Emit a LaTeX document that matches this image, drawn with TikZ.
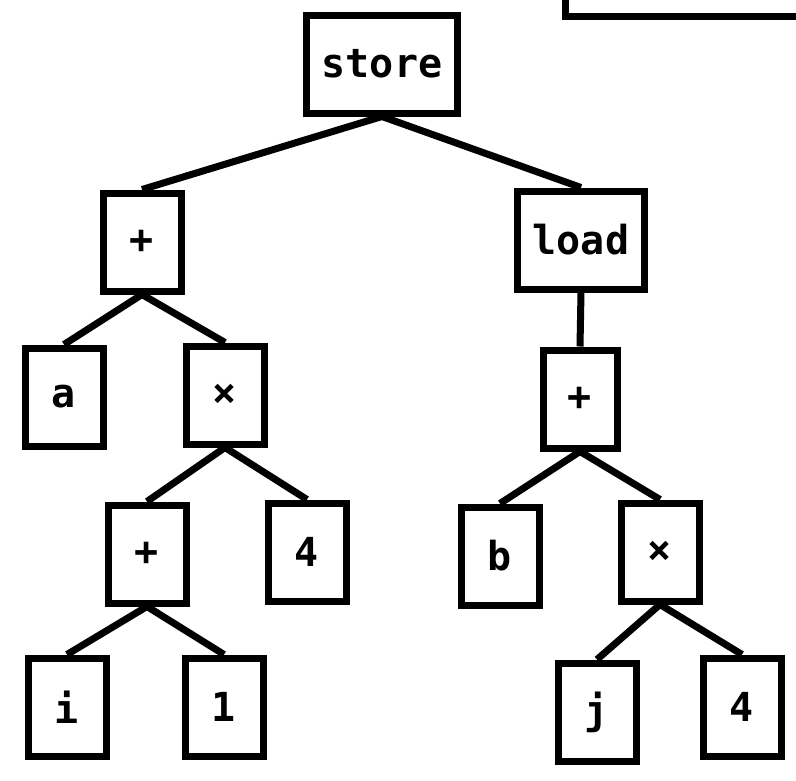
\documentclass[tikz,border=0pt]{standalone}
\usepackage{fontspec}
\setmonofont{DejaVu Sans Mono}
\begin{document}
\begin{tikzpicture}[x=1pt,y=-1pt,
  bx/.style={draw,line width=7pt,minimum width=78pt,minimum height=98pt,inner sep=0pt,font=\ttfamily\bfseries\fontsize{40}{40}\selectfont},
  wd/.style={bx,minimum width=0pt,inner xsep=15pt},
  ed/.style={line width=7pt}]
\useasboundingbox (0,0) rectangle (796,780);
\draw[line width=7pt] (565,0) -- (565,16) -- (800,16);
\node[wd] (store) at (382,64) {store};
\node[bx] (p1) at (142,242) {+};
\node[wd,minimum height=98pt] (load) at (581,240) {load};
\node[bx] (a) at (64,397) {a};
\node[bx] (m1) at (225,395) {×};
\node[bx,minimum width=74pt] (p2) at (580,399) {+};
\node[bx] (p3) at (147,554) {+};
\node[bx] (f1) at (307,552) {4};
\node[bx] (b) at (500,556) {b};
\node[bx] (m2) at (660,552) {×};
\node[bx] (i) at (67,707) {i};
\node[bx] (one) at (224,707) {1};
\node[bx] (j) at (597,712) {j};
\node[bx] (f2) at (742,707) {4};
\foreach \u/\v in {store/p1,store/load,p1/a,p1/m1,load/p2,m1/p3,m1/f1,p2/b,p2/m2,p3/i,p3/one,m2/j,m2/f2}
  \draw[ed] (\u.south) -- (\v.north);
\end{tikzpicture}
\end{document}
